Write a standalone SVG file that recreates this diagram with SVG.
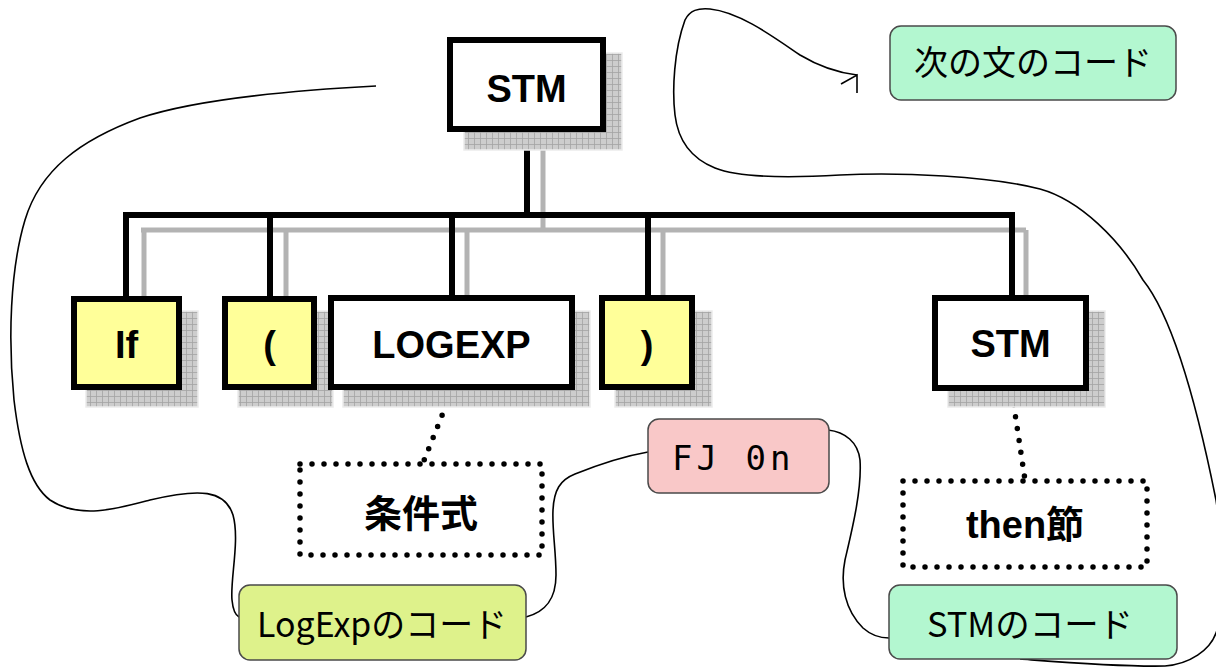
<svg xmlns="http://www.w3.org/2000/svg" width="1216" height="667" viewBox="0 0 1216 667">
  <defs>
    <!-- textured drop shadow used by the tree boxes and their links -->
    <pattern id="grid" width="6" height="6" patternUnits="userSpaceOnUse">
      <rect width="6" height="6" fill="#cdcdcd"/>
      <path d="M0,0.5H6M0.5,0V6" stroke="#a3a3a3" stroke-width="0.8"/>
    </pattern>
    <style>
      .shadow { fill: url(#grid); stroke: #ececec; stroke-width: 1.5; }
      .box { stroke: #000; stroke-width: 6; }
      .term { fill: #ffff99; }
      .nt { fill: #fff; }
      .lbl { font-family: "Liberation Sans", Arial, "Noto Sans CJK JP", sans-serif; font-weight: bold; font-size: 38px; text-anchor: middle; fill: #000; }
      .link { fill: none; stroke: #000; stroke-width: 6; }
      .linkshadow { fill: none; stroke: #b3b3b3; stroke-width: 5; }
      .dots { fill: none; stroke: #000; stroke-width: 5.5; stroke-linecap: round; stroke-dasharray: 0 12; }
      .flow { fill: none; stroke: #000; stroke-width: 1.6; }
      .tag { stroke: #4a4a4a; stroke-width: 1.5; }
      .code { font-family: "Noto Sans CJK JP", "DejaVu Sans", sans-serif; font-size: 34px; text-anchor: middle; fill: #000; }
    </style>
  </defs>

  <rect width="1216" height="667" fill="#fff"/>

  <!-- flow of generated code -->
  <g id="connectors">
    <path class="flow" d="M376,86 C300,90 200,98 140,118 C80,140 40,170 25,220 C10,270 8,340 14,400 C20,450 30,485 50,500 C80,520 120,508 150,500 C200,488 225,490 233,515 C240,540 230,580 232,600 C233,610 235,615 239,617"/>
    <path class="flow" d="M526,617 C545,612 556,600 556,575 C556,550 552,530 553,510 C554,490 560,480 575,474 C600,464 625,456 648,452"/>
    <path class="flow" d="M828,430 C845,432 858,442 860,460 C862,490 852,530 845,560 C840,585 845,610 863,628 C872,636 880,638 889,638"/>
    <path class="flow" d="M1020,659 C1060,662 1120,667 1165,666 C1190,664 1210,650 1216,633 C1225,610 1225,560 1216,500 C1200,420 1175,320 1143,280 C1120,240 1080,200 1040,189 C990,176 900,172 840,175 C790,178 740,178 715,168 C690,158 678,140 675,115 C672,90 674,50 685,20 C690,10 698,8 710,9 C740,12 775,38 800,55 C820,67 840,73 857,75"/>
    <path class="flow" d="M841,84 L857,75 L857,93"/>

    <!-- tree links: shadow then line -->
    <path class="linkshadow" d="M543,150 V230 M141,230 H1026 M144,230 V296 M286,230 V296 M467,230 V296 M663,230 V296 M1026,230 V296"/>
    <path class="link" d="M527,132 V215 M123,215 H1015 M126,215 V298 M270,215 V298 M452,215 V298 M648,215 V298 M1012,215 V298"/>

    <!-- dotted annotation links -->
    <path class="dots" d="M451,393 L423,463"/>
    <path class="dots" d="M1012,393 L1025,480"/>
  </g>

  <g id="stm-root">
    <rect class="shadow" x="464" y="53" width="158" height="97"/>
    <rect class="box nt" x="450" y="40" width="153" height="89"/>
    <text class="lbl" x="526.5" y="102">STM</text>
  </g>

  <g id="if">
    <rect class="shadow" x="86" y="311" width="112" height="96"/>
    <rect class="box term" x="74" y="299" width="105" height="88"/>
    <text class="lbl" x="126.5" y="358">If</text>
  </g>

  <g id="lparen">
    <rect class="shadow" x="238" y="311" width="95" height="96"/>
    <rect class="box term" x="225" y="299" width="89" height="88"/>
    <text class="lbl" x="269.5" y="358">(</text>
  </g>

  <g id="logexp">
    <rect class="shadow" x="343" y="311" width="247" height="96"/>
    <rect class="box nt" x="331" y="298" width="241" height="89"/>
    <text class="lbl" x="451.5" y="358">LOGEXP</text>
  </g>

  <g id="rparen">
    <rect class="shadow" x="615" y="311" width="97" height="96"/>
    <rect class="box term" x="602" y="298" width="90" height="89"/>
    <text class="lbl" x="647" y="358">)</text>
  </g>

  <g id="stm-then">
    <rect class="shadow" x="948" y="311" width="157" height="96"/>
    <rect class="box nt" x="935" y="298" width="151" height="90"/>
    <text class="lbl" x="1010.5" y="357">STM</text>
  </g>

  <g id="cond">
    <rect class="dots" x="300" y="464" width="242" height="91"/>
    <text class="lbl" x="421" y="527">条件式</text>
  </g>

  <g id="then-clause">
    <rect class="dots" x="903" y="481" width="244" height="86"/>
    <text class="lbl" x="1025" y="538">then節</text>
  </g>

  <g id="next-code">
    <rect class="tag" x="890" y="26" width="286" height="74" rx="11" fill="#b3f7d0"/>
    <text class="code" x="1033" y="75">次の文のコード</text>
  </g>

  <g id="fj">
    <rect class="tag" x="648" y="419" width="181" height="74" rx="11" fill="#f9c8c8"/>
    <text class="code" x="672" y="470" style="font-family:'DejaVu Sans Mono','Liberation Mono',monospace;text-anchor:start;letter-spacing:4px" xml:space="preserve">FJ 0n</text>
  </g>

  <g id="logexp-code">
    <rect class="tag" x="239" y="585" width="287" height="75" rx="11" fill="#def28b"/>
    <text class="code" x="382" y="637" textLength="250" lengthAdjust="spacingAndGlyphs">LogExpのコード</text>
  </g>

  <g id="stm-code">
    <rect class="tag" x="889" y="585" width="288" height="74" rx="11" fill="#b3f7d0"/>
    <text class="code" x="1030" y="637" textLength="206" lengthAdjust="spacingAndGlyphs">STMのコード</text>
  </g>
</svg>
